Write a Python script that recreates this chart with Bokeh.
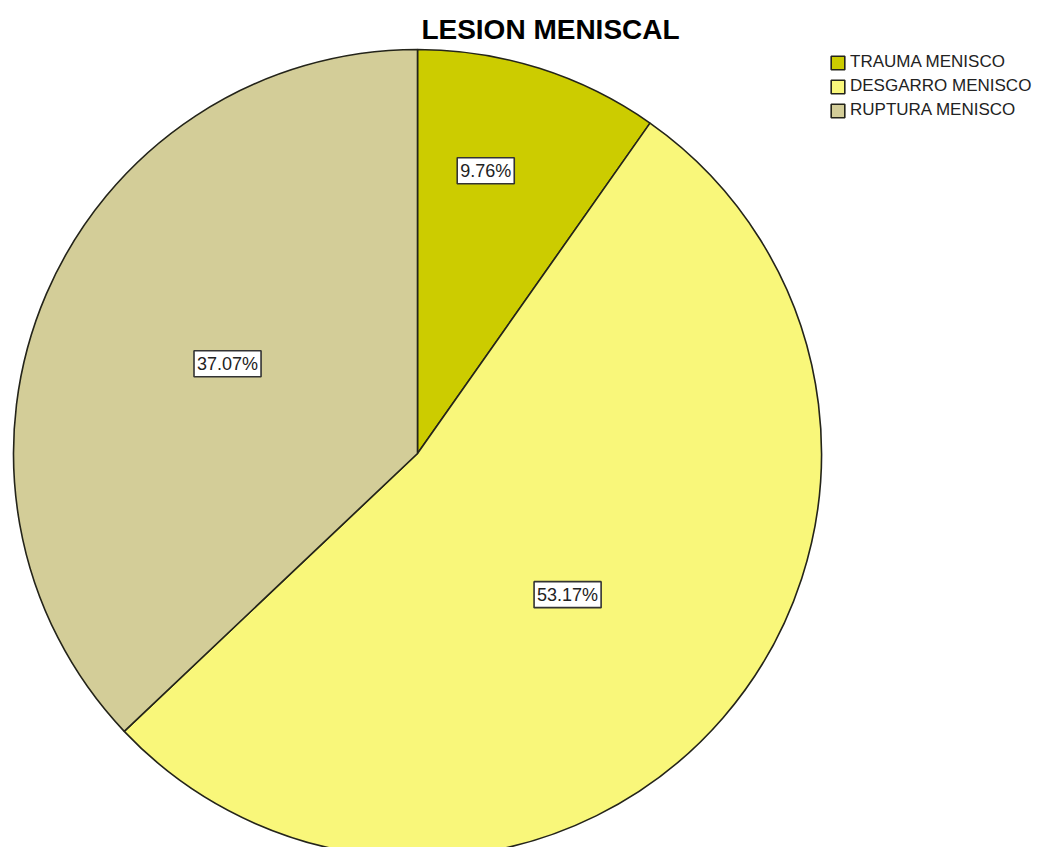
import math
from bokeh.plotting import figure
from bokeh.models import Range1d, ColumnDataSource, Legend, LegendItem, Label
from bokeh.core.properties import value
from bokeh.embed import file_html
from bokeh.resources import INLINE

# ---- data ----
categories = ["TRAUMA MENISCO", "DESGARRO MENISCO", "RUPTURA MENISCO"]
percentages = [9.76, 53.17, 37.07]
labels = ["9.76%", "53.17%", "37.07%"]
colors = ["#CCCC00", "#F9F77A", "#D3CD98"]
title_text = "LESION MENISCAL"

# ---- layout / style ----
W, H = 1034, 847
cx, cy, R = 417, 847 - 453, 404
label_frac = [0.72, 0.51, 0.52]
label_shift_deg = [4.0, -2.4, -2.0]

p = figure(width=W, height=H, output_backend="svg", toolbar_location=None,
           x_range=Range1d(0, W), y_range=Range1d(0, H),
           min_border=0, outline_line_color=None)
p.axis.visible = False
p.grid.visible = False
p.background_fill_color = "white"

total = sum(percentages)
starts, ends, lx, ly = [], [], [], []
cum = 0.0
for i, v in enumerate(percentages):
    a0 = cum / total * 2 * math.pi
    cum += v
    a1 = cum / total * 2 * math.pi
    # clockwise from top
    starts.append(math.pi / 2 - a1)
    ends.append(math.pi / 2 - a0)
    mid = math.pi / 2 - (a0 + a1) / 2 + math.radians(label_shift_deg[i])
    lx.append(cx + label_frac[i] * R * math.cos(mid))
    ly.append(cy + label_frac[i] * R * math.sin(mid))

src = ColumnDataSource(dict(cat=categories, lx=lx, ly=ly, lab=labels))

renderers = []
for i in range(len(categories)):
    r = p.wedge(x=cx, y=cy, radius=R, start_angle=starts[i], end_angle=ends[i],
                fill_color=colors[i], line_color="#24241a", line_width=1.6)
    renderers.append(r)

p.text(x="lx", y="ly", text="lab", source=src, text_align="center",
       text_baseline="middle", text_font=value("Liberation Sans"),
       text_font_size="18px", text_color="#222222",
       background_fill_color="white", border_line_color="#333333",
       border_line_width=1.6, padding=3)

legend = Legend(items=[LegendItem(label=categories[i], renderers=[renderers[i]])
                       for i in range(len(categories))],
                location=(829, 727), padding=0, spacing=4,
                glyph_width=17, glyph_height=17, label_standoff=4,
                label_height=19,
                label_text_font="Liberation Sans", label_text_font_size="17px",
                label_text_color="#222222",
                border_line_color=None, background_fill_alpha=0)
p.add_layout(legend, "center")

title = Label(x=550, y=818, x_units="screen", y_units="screen", text=title_text,
              text_align="center", text_baseline="alphabetic",
              text_font="Liberation Sans", text_font_size="28px",
              text_font_style="bold", text_color="black")
p.add_layout(title)

open("out.html", "w").write(file_html(p, INLINE))
